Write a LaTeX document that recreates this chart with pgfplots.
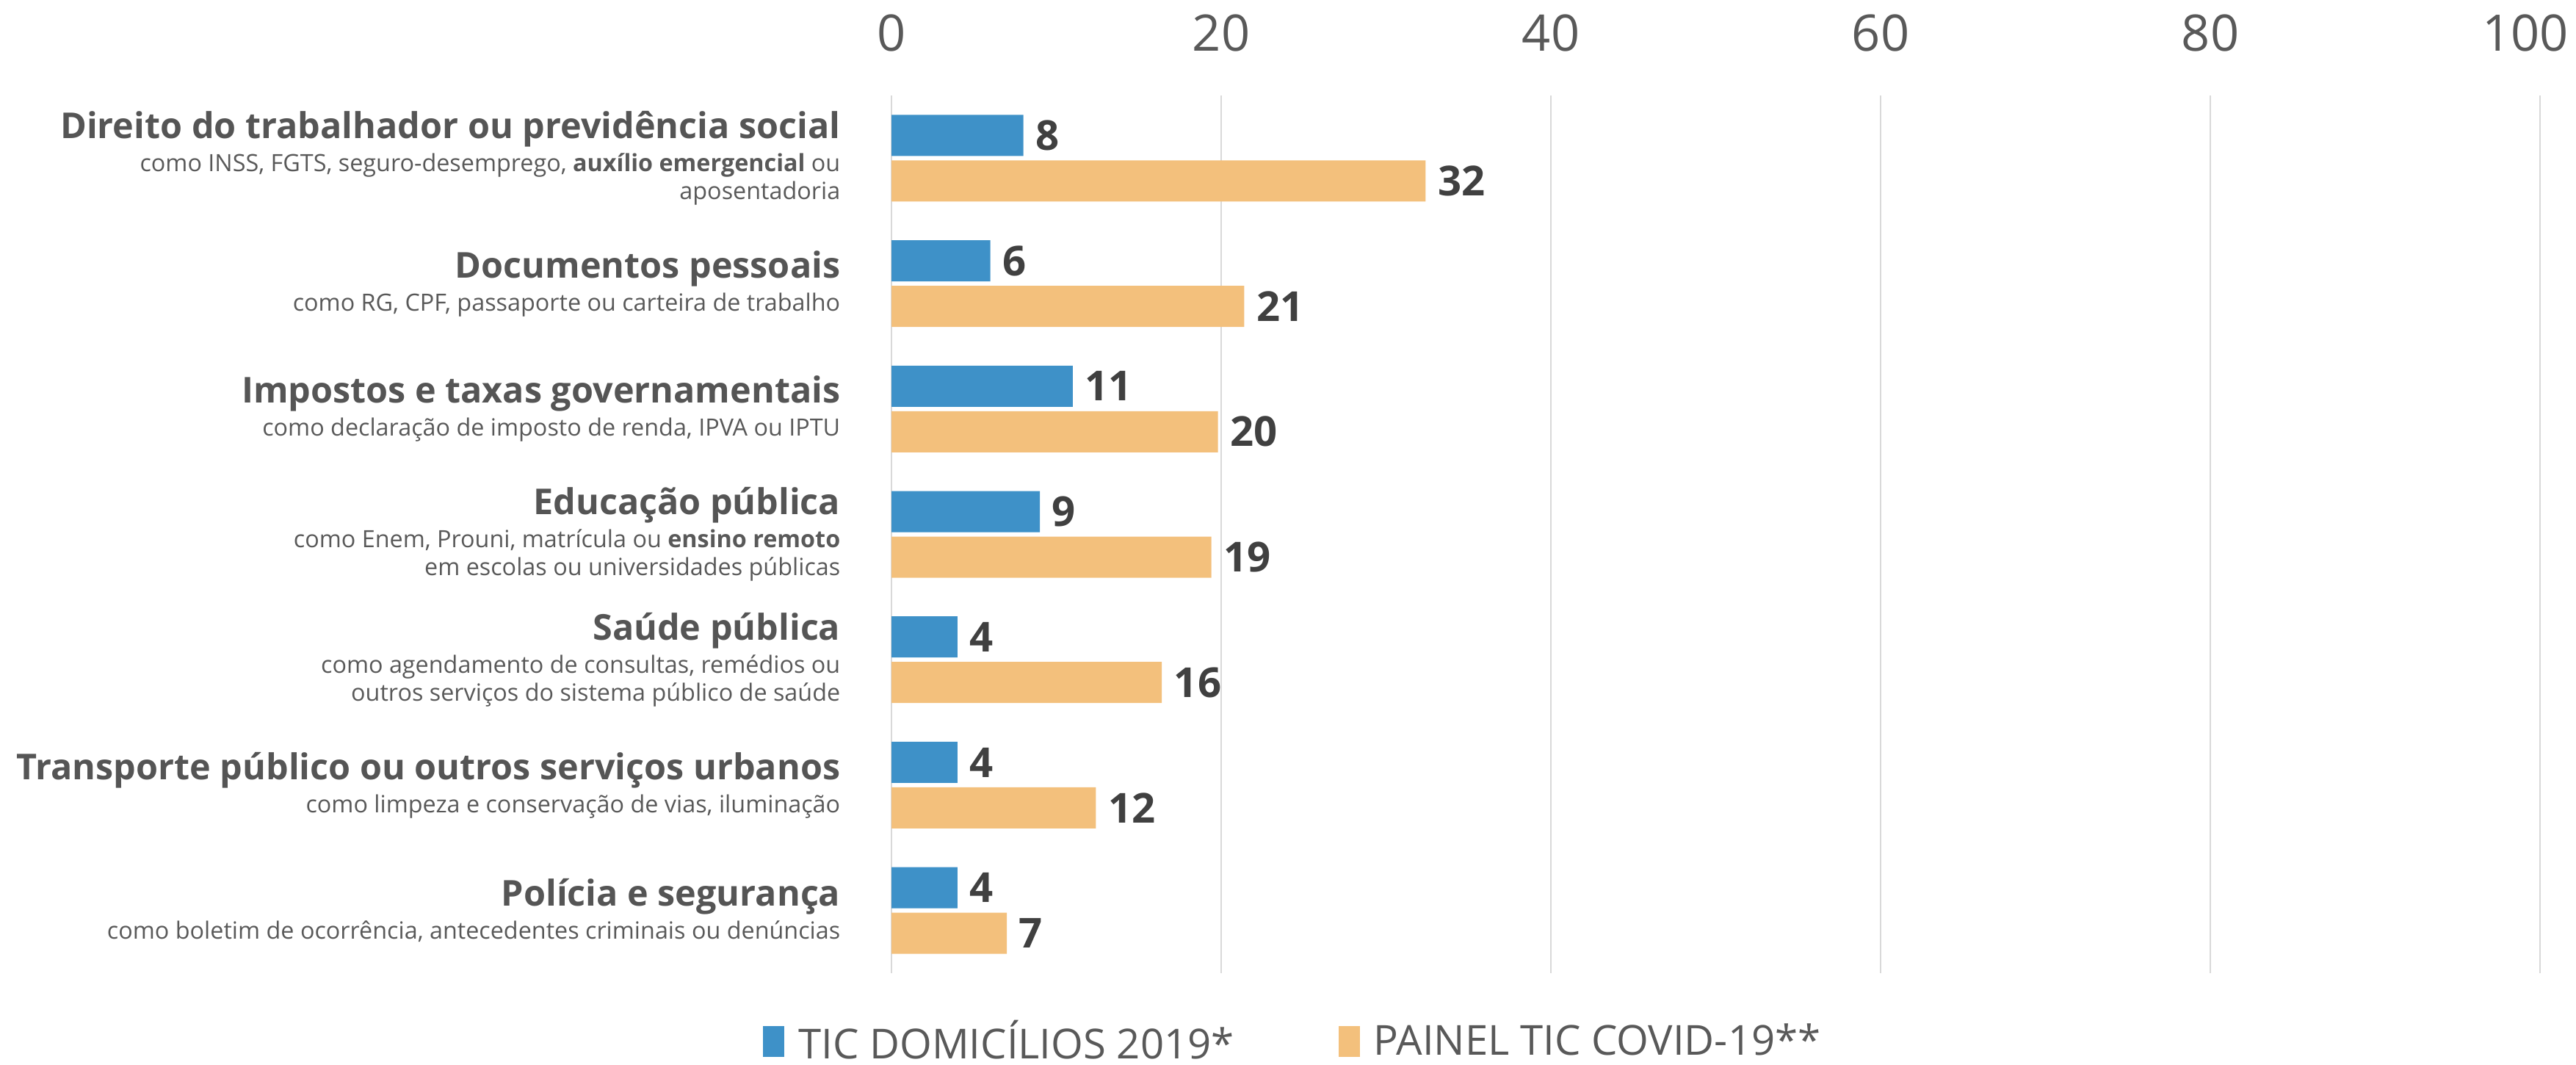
\documentclass[border=0pt]{standalone}
\usepackage{pgfplots}
\pgfplotsset{compat=1.18}
\usepackage{pgfplotstable}
\usepackage{fontspec}
\setmainfont{Open Sans}
\definecolor{cblue}{HTML}{3E91C8}
\definecolor{corange}{HTML}{F3C07C}
\definecolor{tgray}{HTML}{595959}
\definecolor{dgray2}{HTML}{555555}
\definecolor{lgray}{HTML}{D9D9D9}
\definecolor{dgray}{HTML}{404040}
\newcommand{\tf}{\fontsize{13.8}{17}\selectfont\bfseries\color{dgray2}}

\pgfplotstableread{
y x lab
0 8.0 8
1 6.0 6
2 11.0 11
3 9.0 9
4 4.0 4
5 4.0 4
6 4.0 4
}\bluedata
\pgfplotstableread{
y x lab
0 32.4 32
1 21.4 21
2 19.8 20
3 19.4 19
4 16.4 16
5 12.4 12
6 7.0 7
}\orangedata

\begin{document}
\begin{tikzpicture}
\useasboundingbox (0,0) rectangle (35.08cm,14.5cm);
\begin{axis}[
  at={(12.14cm,1.25cm)}, anchor=south west,
  scale only axis, width=22.45cm, height=11.95cm,
  xbar, xmin=0, xmax=100, ymin=-0.5, ymax=6.5, y dir=reverse,
  bar width=0.56cm,
  axis line style={draw=none}, major tick length=0,
  xtick={0,20,...,100}, xticklabel pos=upper,
  xticklabels={0,20,40,60,80,\hspace{-0.4cm}100},
  /pgf/number format/assume math mode=true,
  xmajorgrids, grid style={lgray, line width=0.8pt},
  xticklabel style={anchor=center, yshift=0.85cm, font=\fontsize{19.5}{19.5}\selectfont, text=tgray},
  ytick={0,...,6},
  yticklabels={
    {{\tf Direito do trabalhador ou previdência social}\\[2pt]como INSS, FGTS, seguro-desemprego, \textbf{auxílio emergencial} ou\\aposentadoria},
    {{\tf Documentos pessoais}\\[2pt]como RG, CPF, passaporte ou carteira de trabalho},
    {{\tf Impostos e taxas governamentais}\\[2pt]como declaração de imposto de renda, IPVA ou IPTU},
    {{\tf Educação pública}\\[2pt]como Enem, Prouni, matrícula ou \textbf{ensino remoto}\\em escolas ou universidades públicas},
    {{\tf Saúde pública}\\[2pt]como agendamento de consultas, remédios ou\\outros serviços do sistema público de saúde},
    {{\tf Transporte público ou outros serviços urbanos}\\[2pt]como limpeza e conservação de vias, iluminação},
    {{\tf Polícia e segurança}\\[2pt]como boletim de ocorrência, antecedentes criminais ou denúncias}
  },
  yticklabel style={anchor=east, align=right, inner sep=0pt, xshift=-0.69cm, font=\fontsize{9.2}{10.8}\selectfont, text=tgray},
  nodes near coords, point meta=explicit symbolic,
  nodes near coords style={font=\fontsize{16}{16}\selectfont\bfseries, text=dgray, anchor=west, inner sep=0pt, xshift=0.16cm},
  legend style={at={(0.2445,-0.078)}, anchor=center, draw=none, legend columns=2,
    font=\fontsize{16}{16}\selectfont, text=tgray,
    /tikz/every odd column/.append style={column sep=0.12cm},
    /tikz/every even column/.append style={column sep=1.35cm}},
  legend image code/.code={\fill[#1] (0cm,-0.21cm) rectangle (0.29cm,0.21cm);},
]
\addplot[fill=cblue, draw=none, bar shift=0.31cm] table[x=x, y=y, meta=lab]{\bluedata};
\addplot[fill=corange, draw=none, bar shift=-0.31cm] table[x=x, y=y, meta=lab]{\orangedata};
\legend{TIC DOMICÍLIOS 2019*, PAINEL TIC COVID-19**}
\end{axis}
\end{tikzpicture}
\end{document}
